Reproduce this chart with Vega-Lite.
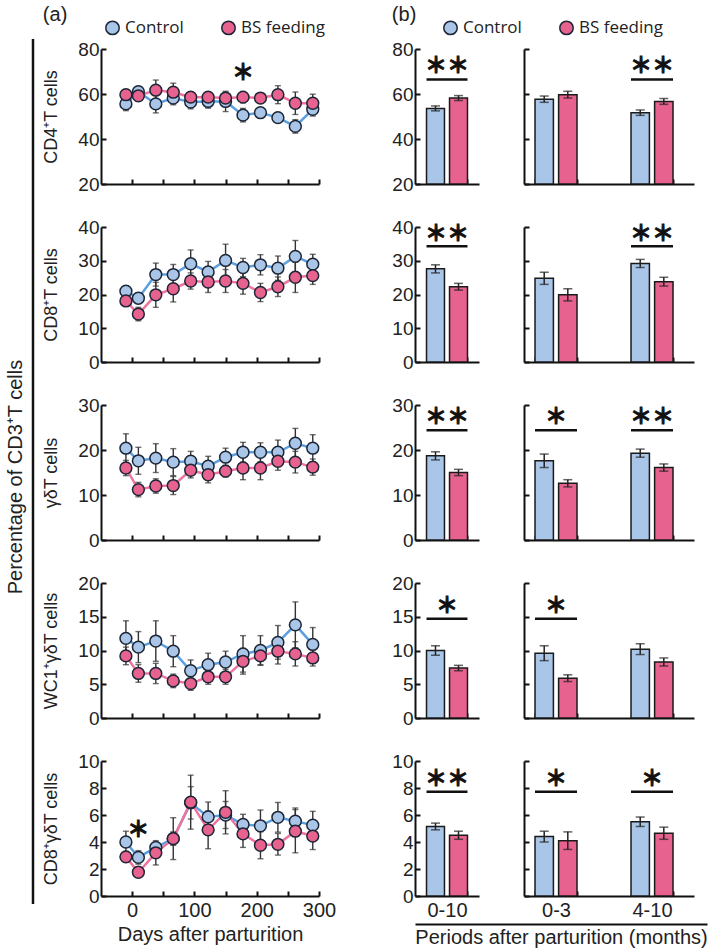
{
"$schema": "https://vega.github.io/schema/vega-lite/v6.json",
"background": "white",
"padding": {"left": 5, "top": 5, "right": 5, "bottom": 3},
"datasets": {
"lines": [
{"panel":"CD4","group":"Control","day":-10,"mean":55.6,"sem":3},
{"panel":"CD4","group":"Control","day":10,"mean":61.0,"sem":1.5},
{"panel":"CD4","group":"Control","day":38,"mean":55.6,"sem":4},
{"panel":"CD4","group":"Control","day":66,"mean":58.2,"sem":3},
{"panel":"CD4","group":"Control","day":94,"mean":56.4,"sem":3},
{"panel":"CD4","group":"Control","day":122,"mean":56.7,"sem":3},
{"panel":"CD4","group":"Control","day":150,"mean":56.7,"sem":4.5},
{"panel":"CD4","group":"Control","day":178,"mean":50.6,"sem":3},
{"panel":"CD4","group":"Control","day":206,"mean":51.7,"sem":2},
{"panel":"CD4","group":"Control","day":234,"mean":49.5,"sem":2},
{"panel":"CD4","group":"Control","day":262,"mean":45.6,"sem":3},
{"panel":"CD4","group":"Control","day":290,"mean":53.2,"sem":3},
{"panel":"CD4","group":"BS feeding","day":-10,"mean":59.7,"sem":2},
{"panel":"CD4","group":"BS feeding","day":10,"mean":59.2,"sem":1.5},
{"panel":"CD4","group":"BS feeding","day":38,"mean":61.7,"sem":4.5},
{"panel":"CD4","group":"BS feeding","day":66,"mean":60.8,"sem":4},
{"panel":"CD4","group":"BS feeding","day":94,"mean":58.6,"sem":2},
{"panel":"CD4","group":"BS feeding","day":122,"mean":58.6,"sem":2},
{"panel":"CD4","group":"BS feeding","day":150,"mean":58.2,"sem":2.5},
{"panel":"CD4","group":"BS feeding","day":178,"mean":58.6,"sem":2.5},
{"panel":"CD4","group":"BS feeding","day":206,"mean":58.2,"sem":2},
{"panel":"CD4","group":"BS feeding","day":234,"mean":59.7,"sem":4},
{"panel":"CD4","group":"BS feeding","day":262,"mean":55.9,"sem":5},
{"panel":"CD4","group":"BS feeding","day":290,"mean":55.9,"sem":4},
{"panel":"CD8","group":"Control","day":-10,"mean":21.0,"sem":1.5},
{"panel":"CD8","group":"Control","day":10,"mean":18.9,"sem":1.5},
{"panel":"CD8","group":"Control","day":38,"mean":25.9,"sem":3.4},
{"panel":"CD8","group":"Control","day":66,"mean":25.9,"sem":3},
{"panel":"CD8","group":"Control","day":94,"mean":29.1,"sem":4.1},
{"panel":"CD8","group":"Control","day":122,"mean":26.7,"sem":3.1},
{"panel":"CD8","group":"Control","day":150,"mean":30.1,"sem":4.8},
{"panel":"CD8","group":"Control","day":178,"mean":28.0,"sem":2.7},
{"panel":"CD8","group":"Control","day":206,"mean":28.8,"sem":3},
{"panel":"CD8","group":"Control","day":234,"mean":27.8,"sem":3.6},
{"panel":"CD8","group":"Control","day":262,"mean":31.3,"sem":4.7},
{"panel":"CD8","group":"Control","day":290,"mean":29.0,"sem":2.9},
{"panel":"CD8","group":"BS feeding","day":-10,"mean":18.1,"sem":1.5},
{"panel":"CD8","group":"BS feeding","day":10,"mean":14.2,"sem":2},
{"panel":"CD8","group":"BS feeding","day":38,"mean":19.9,"sem":3.7},
{"panel":"CD8","group":"BS feeding","day":66,"mean":21.7,"sem":3.9},
{"panel":"CD8","group":"BS feeding","day":94,"mean":24.0,"sem":2.4},
{"panel":"CD8","group":"BS feeding","day":122,"mean":23.7,"sem":3.1},
{"panel":"CD8","group":"BS feeding","day":150,"mean":24.0,"sem":3.4},
{"panel":"CD8","group":"BS feeding","day":178,"mean":23.3,"sem":3.2},
{"panel":"CD8","group":"BS feeding","day":206,"mean":20.6,"sem":2.7},
{"panel":"CD8","group":"BS feeding","day":234,"mean":22.3,"sem":2.9},
{"panel":"CD8","group":"BS feeding","day":262,"mean":25.1,"sem":4.5},
{"panel":"CD8","group":"BS feeding","day":290,"mean":25.6,"sem":2.6},
{"panel":"gd","group":"Control","day":-10,"mean":20.4,"sem":3.2},
{"panel":"gd","group":"Control","day":10,"mean":17.6,"sem":3.0},
{"panel":"gd","group":"Control","day":38,"mean":18.2,"sem":3.2},
{"panel":"gd","group":"Control","day":66,"mean":17.3,"sem":3.0},
{"panel":"gd","group":"Control","day":94,"mean":17.5,"sem":2.2},
{"panel":"gd","group":"Control","day":122,"mean":16.4,"sem":2.2},
{"panel":"gd","group":"Control","day":150,"mean":18.4,"sem":2.0},
{"panel":"gd","group":"Control","day":178,"mean":19.5,"sem":2.2},
{"panel":"gd","group":"Control","day":206,"mean":19.5,"sem":2.1},
{"panel":"gd","group":"Control","day":234,"mean":19.5,"sem":2.7},
{"panel":"gd","group":"Control","day":262,"mean":21.5,"sem":3.3},
{"panel":"gd","group":"Control","day":290,"mean":20.4,"sem":3.0},
{"panel":"gd","group":"BS feeding","day":-10,"mean":16.0,"sem":1.7},
{"panel":"gd","group":"BS feeding","day":10,"mean":11.2,"sem":1.6},
{"panel":"gd","group":"BS feeding","day":38,"mean":12.0,"sem":1.6},
{"panel":"gd","group":"BS feeding","day":66,"mean":12.1,"sem":2.0},
{"panel":"gd","group":"BS feeding","day":94,"mean":15.5,"sem":1.7},
{"panel":"gd","group":"BS feeding","day":122,"mean":14.5,"sem":1.8},
{"panel":"gd","group":"BS feeding","day":150,"mean":15.3,"sem":1.3},
{"panel":"gd","group":"BS feeding","day":178,"mean":16.0,"sem":2.6},
{"panel":"gd","group":"BS feeding","day":206,"mean":16.0,"sem":2.6},
{"panel":"gd","group":"BS feeding","day":234,"mean":17.5,"sem":2.0},
{"panel":"gd","group":"BS feeding","day":262,"mean":17.3,"sem":2.4},
{"panel":"gd","group":"BS feeding","day":290,"mean":16.2,"sem":1.8},
{"panel":"WC1","group":"Control","day":-10,"mean":11.8,"sem":2.6},
{"panel":"WC1","group":"Control","day":10,"mean":10.5,"sem":2.3},
{"panel":"WC1","group":"Control","day":38,"mean":11.4,"sem":3.0},
{"panel":"WC1","group":"Control","day":66,"mean":9.9,"sem":2.3},
{"panel":"WC1","group":"Control","day":94,"mean":7.0,"sem":1.6},
{"panel":"WC1","group":"Control","day":122,"mean":7.9,"sem":1.7},
{"panel":"WC1","group":"Control","day":150,"mean":8.3,"sem":1.6},
{"panel":"WC1","group":"Control","day":178,"mean":9.5,"sem":2.7},
{"panel":"WC1","group":"Control","day":206,"mean":10.0,"sem":2.2},
{"panel":"WC1","group":"Control","day":234,"mean":11.2,"sem":2.5},
{"panel":"WC1","group":"Control","day":262,"mean":13.8,"sem":3.4},
{"panel":"WC1","group":"Control","day":290,"mean":10.9,"sem":2.5},
{"panel":"WC1","group":"BS feeding","day":-10,"mean":9.2,"sem":1.3},
{"panel":"WC1","group":"BS feeding","day":10,"mean":6.6,"sem":1.3},
{"panel":"WC1","group":"BS feeding","day":38,"mean":6.6,"sem":1.5},
{"panel":"WC1","group":"BS feeding","day":66,"mean":5.5,"sem":1.0},
{"panel":"WC1","group":"BS feeding","day":94,"mean":5.1,"sem":1.0},
{"panel":"WC1","group":"BS feeding","day":122,"mean":6.1,"sem":1.1},
{"panel":"WC1","group":"BS feeding","day":150,"mean":6.1,"sem":1.1},
{"panel":"WC1","group":"BS feeding","day":178,"mean":8.4,"sem":1.9},
{"panel":"WC1","group":"BS feeding","day":206,"mean":9.2,"sem":1.3},
{"panel":"WC1","group":"BS feeding","day":234,"mean":9.9,"sem":1.9},
{"panel":"WC1","group":"BS feeding","day":262,"mean":9.5,"sem":1.8},
{"panel":"WC1","group":"BS feeding","day":290,"mean":8.9,"sem":1.2},
{"panel":"CD8gd","group":"Control","day":-10,"mean":4.0,"sem":0.8},
{"panel":"CD8gd","group":"Control","day":10,"mean":2.86,"sem":0.5},
{"panel":"CD8gd","group":"Control","day":38,"mean":3.6,"sem":0.3},
{"panel":"CD8gd","group":"Control","day":66,"mean":4.25,"sem":0.5},
{"panel":"CD8gd","group":"Control","day":94,"mean":6.9,"sem":1.2},
{"panel":"CD8gd","group":"Control","day":122,"mean":5.86,"sem":1.1},
{"panel":"CD8gd","group":"Control","day":150,"mean":6.0,"sem":1.0},
{"panel":"CD8gd","group":"Control","day":178,"mean":5.3,"sem":0.75},
{"panel":"CD8gd","group":"Control","day":206,"mean":5.2,"sem":1.17},
{"panel":"CD8gd","group":"Control","day":234,"mean":5.83,"sem":1.1},
{"panel":"CD8gd","group":"Control","day":262,"mean":5.54,"sem":0.98},
{"panel":"CD8gd","group":"Control","day":290,"mean":5.25,"sem":1.02},
{"panel":"CD8gd","group":"BS feeding","day":-10,"mean":2.9,"sem":0.4},
{"panel":"CD8gd","group":"BS feeding","day":10,"mean":1.76,"sem":0.3},
{"panel":"CD8gd","group":"BS feeding","day":38,"mean":3.2,"sem":0.9},
{"panel":"CD8gd","group":"BS feeding","day":66,"mean":4.25,"sem":1.55},
{"panel":"CD8gd","group":"BS feeding","day":94,"mean":6.95,"sem":2.0},
{"panel":"CD8gd","group":"BS feeding","day":122,"mean":4.9,"sem":1.4},
{"panel":"CD8gd","group":"BS feeding","day":150,"mean":6.2,"sem":1.6},
{"panel":"CD8gd","group":"BS feeding","day":178,"mean":4.6,"sem":1.0},
{"panel":"CD8gd","group":"BS feeding","day":206,"mean":3.76,"sem":1.0},
{"panel":"CD8gd","group":"BS feeding","day":234,"mean":3.83,"sem":0.8},
{"panel":"CD8gd","group":"BS feeding","day":262,"mean":4.8,"sem":1.6},
{"panel":"CD8gd","group":"BS feeding","day":290,"mean":4.44,"sem":1.0}
],
"stars": [
{"panel":"CD4","day":178,"mean":69.5,"label":"＊"},
{"panel":"CD8gd","day":10,"mean":4.9,"label":"＊"}
],
"bars": [
{"panel":"CD4","period":"0-10","group":"Control","mean":53.6,"sem":1.1},
{"panel":"CD4","period":"0-10","group":"BS feeding","mean":58.2,"sem":1.1},
{"panel":"CD4","period":"0-3","group":"Control","mean":57.7,"sem":1.4},
{"panel":"CD4","period":"0-3","group":"BS feeding","mean":59.7,"sem":1.5},
{"panel":"CD4","period":"4-10","group":"Control","mean":51.7,"sem":1.2},
{"panel":"CD4","period":"4-10","group":"BS feeding","mean":56.7,"sem":1.3},
{"panel":"CD8","period":"0-10","group":"Control","mean":27.6,"sem":1.2},
{"panel":"CD8","period":"0-10","group":"BS feeding","mean":22.3,"sem":1.0},
{"panel":"CD8","period":"0-3","group":"Control","mean":24.8,"sem":1.8},
{"panel":"CD8","period":"0-3","group":"BS feeding","mean":19.9,"sem":1.8},
{"panel":"CD8","period":"4-10","group":"Control","mean":29.2,"sem":1.2},
{"panel":"CD8","period":"4-10","group":"BS feeding","mean":23.8,"sem":1.3},
{"panel":"gd","period":"0-10","group":"Control","mean":18.7,"sem":0.9},
{"panel":"gd","period":"0-10","group":"BS feeding","mean":15.0,"sem":0.7},
{"panel":"gd","period":"0-3","group":"Control","mean":17.6,"sem":1.5},
{"panel":"gd","period":"0-3","group":"BS feeding","mean":12.6,"sem":0.8},
{"panel":"gd","period":"4-10","group":"Control","mean":19.3,"sem":0.9},
{"panel":"gd","period":"4-10","group":"BS feeding","mean":16.1,"sem":0.8},
{"panel":"WC1","period":"0-10","group":"Control","mean":10.0,"sem":0.7},
{"panel":"WC1","period":"0-10","group":"BS feeding","mean":7.4,"sem":0.4},
{"panel":"WC1","period":"0-3","group":"Control","mean":9.6,"sem":1.1},
{"panel":"WC1","period":"0-3","group":"BS feeding","mean":5.9,"sem":0.5},
{"panel":"WC1","period":"4-10","group":"Control","mean":10.2,"sem":0.8},
{"panel":"WC1","period":"4-10","group":"BS feeding","mean":8.3,"sem":0.6},
{"panel":"CD8gd","period":"0-10","group":"Control","mean":5.15,"sem":0.25},
{"panel":"CD8gd","period":"0-10","group":"BS feeding","mean":4.5,"sem":0.3},
{"panel":"CD8gd","period":"0-3","group":"Control","mean":4.4,"sem":0.4},
{"panel":"CD8gd","period":"0-3","group":"BS feeding","mean":4.1,"sem":0.65},
{"panel":"CD8gd","period":"4-10","group":"Control","mean":5.5,"sem":0.35},
{"panel":"CD8gd","period":"4-10","group":"BS feeding","mean":4.65,"sem":0.45}
],
"sig": [
{"kind":"line","panel":"CD4","period":"0-10","mean":66.4,"label":""},
{"kind":"text","panel":"CD4","period":"0-10","mean":72.3,"label":"＊＊"},
{"kind":"line","panel":"CD4","period":"4-10","mean":66.4,"label":""},
{"kind":"text","panel":"CD4","period":"4-10","mean":72.3,"label":"＊＊"},
{"kind":"line","panel":"CD8","period":"0-10","mean":34.3,"label":""},
{"kind":"text","panel":"CD8","period":"0-10","mean":38.0,"label":"＊＊"},
{"kind":"line","panel":"CD8","period":"4-10","mean":34.3,"label":""},
{"kind":"text","panel":"CD8","period":"4-10","mean":38.0,"label":"＊＊"},
{"kind":"line","panel":"gd","period":"0-10","mean":24.4,"label":""},
{"kind":"text","panel":"gd","period":"0-10","mean":27.3,"label":"＊＊"},
{"kind":"line","panel":"gd","period":"0-3","mean":24.4,"label":""},
{"kind":"text","panel":"gd","period":"0-3","mean":27.3,"label":"＊"},
{"kind":"line","panel":"gd","period":"4-10","mean":24.4,"label":""},
{"kind":"text","panel":"gd","period":"4-10","mean":27.3,"label":"＊＊"},
{"kind":"line","panel":"WC1","period":"0-10","mean":14.7,"label":""},
{"kind":"text","panel":"WC1","period":"0-10","mean":16.6,"label":"＊"},
{"kind":"line","panel":"WC1","period":"0-3","mean":14.7,"label":""},
{"kind":"text","panel":"WC1","period":"0-3","mean":16.6,"label":"＊"},
{"kind":"line","panel":"CD8gd","period":"0-10","mean":7.73,"label":""},
{"kind":"text","panel":"CD8gd","period":"0-10","mean":8.66,"label":"＊＊"},
{"kind":"line","panel":"CD8gd","period":"0-3","mean":7.73,"label":""},
{"kind":"text","panel":"CD8gd","period":"0-3","mean":8.66,"label":"＊"},
{"kind":"line","panel":"CD8gd","period":"4-10","mean":7.73,"label":""},
{"kind":"text","panel":"CD8gd","period":"4-10","mean":8.66,"label":"＊"}
]
},
"spacing": 7,
"hconcat": [
{
"width": 1, "height": 855,
"data": {"values": [{"x": 0, "y": 0, "y2": 1.0117}]},
"mark": {"type": "rule", "strokeWidth": 2.5, "color": "#111"},
"encoding": {
"x": {"field": "x", "type": "quantitative", "scale": {"domain": [0, 1]}, "axis": null},
"y": {"field": "y", "type": "quantitative", "scale": {"domain": [0, 1]}, "axis": {"title": "Percentage of CD3⁺T cells", "labels": false, "ticks": false, "domain": false, "titleFontSize": 20, "titlePadding": 8}},
"y2": {"field": "y2"}
}
},
{
"spacing": 55,
"resolve": {"scale": {"fill": "independent", "xOffset": "independent"}},
"hconcat": [
{
"title": {"text": "(a)", "anchor": "start", "offset": -6, "fontSize": 20, "fontWeight": "normal", "color": "#222"},
"bounds": "flush",
"spacing": 43,
"vconcat": [
{
"width": 218, "height": 135,
"data": {"name": "lines"},
"transform": [{"filter": "datum.panel === 'CD4'"}],
"encoding": {
"x": {"field": "day", "type": "quantitative", "scale": {"domain": [-50, 300], "nice": false}, "axis": {"values": [0,50,100,150,200,250,300], "labels": false, "title": null}},
"y": {"field": "mean", "type": "quantitative", "scale": {"domain": [20, 80], "nice": false, "zero": false}, "axis": {"values": [20,40,60,80], "title": "CD4⁺T cells", "titlePadding": 17}}
},
"layer": [
{"mark": {"type": "line", "strokeWidth": 2.5}, "encoding": {"stroke": {"field": "group", "type": "nominal", "scale": {"domain": ["Control","BS feeding"], "range": ["#5a9fe2","#ee74a0"]}, "legend": null}}},
{"mark": {"type": "errorbar", "ticks": true, "size": 6, "thickness": 1.4, "color": "#333"}, "encoding": {"yError": {"field": "sem"}, "detail": {"field": "group", "type": "nominal"}}},
{"mark": {"type": "circle", "size": 140, "stroke": "#1d2636", "strokeWidth": 1.5, "opacity": 1}, "encoding": {"fill": {"field": "group", "type": "nominal", "scale": {"domain": ["Control","BS feeding"], "range": ["#a9c6e8","#e8628f"]}, "legend": {"orient": "none", "legendX": 3, "legendY": -30, "direction": "horizontal", "title": null, "symbolType": "circle", "symbolSize": 180, "symbolStrokeColor": "#1d2636", "symbolStrokeWidth": 1.5, "symbolOpacity": 1, "labelFontSize": 17, "labelFont": "Open Sans", "labelColor": "#222", "columnPadding": 34, "labelOffset": 4}}}},
{"data": {"name": "stars"}, "transform": [{"filter": "datum.panel === 'CD4'"}], "mark": {"type": "text", "font": "Noto Sans CJK JP", "fontSize": 22, "fontWeight": "bold", "baseline": "middle", "color": "#111", "stroke": "#111", "strokeWidth": 1}, "encoding": {"text": {"field": "label"}}}
]
},
{
"width": 218, "height": 135,
"data": {"name": "lines"},
"transform": [{"filter": "datum.panel === 'CD8'"}],
"encoding": {
"x": {"field": "day", "type": "quantitative", "scale": {"domain": [-50, 300], "nice": false}, "axis": {"values": [0,50,100,150,200,250,300], "labels": false, "title": null}},
"y": {"field": "mean", "type": "quantitative", "scale": {"domain": [0, 40], "nice": false}, "axis": {"values": [0,10,20,30,40], "title": "CD8⁺T cells", "titlePadding": 17}}
},
"layer": [
{"mark": {"type": "line", "strokeWidth": 2.5}, "encoding": {"stroke": {"field": "group", "type": "nominal", "scale": {"domain": ["Control","BS feeding"], "range": ["#5a9fe2","#ee74a0"]}, "legend": null}}},
{"mark": {"type": "errorbar", "ticks": true, "size": 6, "thickness": 1.4, "color": "#333"}, "encoding": {"yError": {"field": "sem"}, "detail": {"field": "group", "type": "nominal"}}},
{"mark": {"type": "circle", "size": 140, "stroke": "#1d2636", "strokeWidth": 1.5, "opacity": 1}, "encoding": {"fill": {"field": "group", "type": "nominal", "scale": {"domain": ["Control","BS feeding"], "range": ["#a9c6e8","#e8628f"]}, "legend": null}}}
]
},
{
"width": 218, "height": 135,
"data": {"name": "lines"},
"transform": [{"filter": "datum.panel === 'gd'"}],
"encoding": {
"x": {"field": "day", "type": "quantitative", "scale": {"domain": [-50, 300], "nice": false}, "axis": {"values": [0,50,100,150,200,250,300], "labels": false, "title": null}},
"y": {"field": "mean", "type": "quantitative", "scale": {"domain": [0, 30], "nice": false}, "axis": {"values": [0,10,20,30], "title": "γδT cells", "titlePadding": 17}}
},
"layer": [
{"mark": {"type": "line", "strokeWidth": 2.5}, "encoding": {"stroke": {"field": "group", "type": "nominal", "scale": {"domain": ["Control","BS feeding"], "range": ["#5a9fe2","#ee74a0"]}, "legend": null}}},
{"mark": {"type": "errorbar", "ticks": true, "size": 6, "thickness": 1.4, "color": "#333"}, "encoding": {"yError": {"field": "sem"}, "detail": {"field": "group", "type": "nominal"}}},
{"mark": {"type": "circle", "size": 140, "stroke": "#1d2636", "strokeWidth": 1.5, "opacity": 1}, "encoding": {"fill": {"field": "group", "type": "nominal", "scale": {"domain": ["Control","BS feeding"], "range": ["#a9c6e8","#e8628f"]}, "legend": null}}}
]
},
{
"width": 218, "height": 135,
"data": {"name": "lines"},
"transform": [{"filter": "datum.panel === 'WC1'"}],
"encoding": {
"x": {"field": "day", "type": "quantitative", "scale": {"domain": [-50, 300], "nice": false}, "axis": {"values": [0,50,100,150,200,250,300], "labels": false, "title": null}},
"y": {"field": "mean", "type": "quantitative", "scale": {"domain": [0, 20], "nice": false}, "axis": {"values": [0,5,10,15,20], "title": "WC1⁺γδT cells", "titlePadding": 17}}
},
"layer": [
{"mark": {"type": "line", "strokeWidth": 2.5}, "encoding": {"stroke": {"field": "group", "type": "nominal", "scale": {"domain": ["Control","BS feeding"], "range": ["#5a9fe2","#ee74a0"]}, "legend": null}}},
{"mark": {"type": "errorbar", "ticks": true, "size": 6, "thickness": 1.4, "color": "#333"}, "encoding": {"yError": {"field": "sem"}, "detail": {"field": "group", "type": "nominal"}}},
{"mark": {"type": "circle", "size": 140, "stroke": "#1d2636", "strokeWidth": 1.5, "opacity": 1}, "encoding": {"fill": {"field": "group", "type": "nominal", "scale": {"domain": ["Control","BS feeding"], "range": ["#a9c6e8","#e8628f"]}, "legend": null}}}
]
},
{
"width": 218, "height": 135,
"data": {"name": "lines"},
"transform": [{"filter": "datum.panel === 'CD8gd'"}],
"encoding": {
"x": {"field": "day", "type": "quantitative", "scale": {"domain": [-50, 300], "nice": false}, "axis": {"values": [0,50,100,150,200,250,300], "labelExpr": "datum.value % 100 === 0 ? datum.label : ''", "labelFlush": false, "labelFontSize": 20, "labelPadding": 9, "title": "Days after parturition", "titleFontSize": 20, "titlePadding": 4}},
"y": {"field": "mean", "type": "quantitative", "scale": {"domain": [0, 10], "nice": false}, "axis": {"values": [0,2,4,6,8,10], "title": "CD8⁺γδT cells", "titlePadding": 17}}
},
"layer": [
{"mark": {"type": "line", "strokeWidth": 2.5}, "encoding": {"stroke": {"field": "group", "type": "nominal", "scale": {"domain": ["Control","BS feeding"], "range": ["#5a9fe2","#ee74a0"]}, "legend": null}}},
{"mark": {"type": "errorbar", "ticks": true, "size": 6, "thickness": 1.4, "color": "#333"}, "encoding": {"yError": {"field": "sem"}, "detail": {"field": "group", "type": "nominal"}}},
{"mark": {"type": "circle", "size": 140, "stroke": "#1d2636", "strokeWidth": 1.5, "opacity": 1}, "encoding": {"fill": {"field": "group", "type": "nominal", "scale": {"domain": ["Control","BS feeding"], "range": ["#a9c6e8","#e8628f"]}, "legend": null}}},
{"data": {"name": "stars"}, "transform": [{"filter": "datum.panel === 'CD8gd'"}], "mark": {"type": "text", "font": "Noto Sans CJK JP", "fontSize": 22, "fontWeight": "bold", "baseline": "middle", "color": "#111", "stroke": "#111", "strokeWidth": 1}, "encoding": {"text": {"field": "label"}}}
]
}
]
},
{
"title": {"text": "(b)", "anchor": "start", "offset": -6, "fontSize": 20, "fontWeight": "normal", "color": "#222"},
"spacing": 0,
"resolve": {"scale": {"fill": "independent", "xOffset": "independent"}},
"vconcat": [
{
"bounds": "flush",
"columns": 2,
"spacing": {"row": 43, "column": 45},
"resolve": {"scale": {"xOffset": "independent"}},
"concat": [
{
"width": 64, "height": 135,
"data": {"name": "bars"},
"transform": [{"filter": "datum.panel === 'CD4' && datum.period === '0-10'"}],
"encoding": {
"x": {"field": "period", "type": "nominal", "scale": {"domain": ["0-10"], "paddingInner": 0.36, "paddingOuter": 0.18}, "axis": {"labels": false, "title": null, "tickBand": "extent"}},
"y": {"field": "mean", "type": "quantitative", "stack": null, "scale": {"domain": [20, 80], "nice": false, "zero": false}, "axis": {"values": [20,40,60,80], "title": null}}
},
"layer": [
{"mark": {"type": "bar", "stroke": "#1a1a1a", "strokeWidth": 1.5, "clip": true}, "encoding": {"xOffset": {"field": "group", "type": "nominal", "scale": {"domain": ["Control","BS feeding"], "paddingInner": 0.22, "paddingOuter": 0}}, "fill": {"field": "group", "type": "nominal", "scale": {"domain": ["Control","BS feeding"], "range": ["#a9c6e8","#e8628f"]}, "legend": {"orient": "none", "legendX": 27, "legendY": -30, "direction": "horizontal", "title": null, "symbolType": "circle", "symbolSize": 180, "symbolStrokeColor": "#1d2636", "symbolStrokeWidth": 1.5, "symbolOpacity": 1, "labelFontSize": 17, "labelFont": "Open Sans", "labelColor": "#222", "columnPadding": 34, "labelOffset": 4}}}},
{"mark": {"type": "errorbar", "ticks": true, "size": 9, "thickness": 1.5, "color": "#222"}, "encoding": {"xOffset": {"field": "group", "type": "nominal", "scale": {"domain": ["Control","BS feeding"], "paddingInner": 0.22, "paddingOuter": 0}}, "yError": {"field": "sem"}}},
{"data": {"name": "sig"}, "transform": [{"filter": "datum.kind === 'line' && datum.panel === 'CD4' && datum.period === '0-10'"}], "mark": {"type": "rule", "strokeWidth": 2.5, "color": "#111"}, "encoding": {"x": {"field": "period", "type": "nominal", "bandPosition": 0}, "x2": {"field": "period", "bandPosition": 1}}},
{"data": {"name": "sig"}, "transform": [{"filter": "datum.kind === 'text' && datum.panel === 'CD4' && datum.period === '0-10'"}], "mark": {"type": "text", "font": "Noto Sans CJK JP", "fontSize": 22, "fontWeight": "bold", "baseline": "middle", "color": "#111", "stroke": "#111", "strokeWidth": 1}, "encoding": {"text": {"field": "label"}}}
]
},
{
"width": 170, "height": 135,
"data": {"name": "bars"},
"transform": [{"filter": "datum.panel === 'CD4' && datum.period !== '0-10'"}],
"encoding": {
"x": {"field": "period", "type": "nominal", "scale": {"domain": ["0-3","4-10"], "paddingInner": 0.5625, "paddingOuter": 0.1666, "align": 0.344}, "axis": {"labels": false, "title": null, "tickBand": "extent"}},
"y": {"field": "mean", "type": "quantitative", "stack": null, "scale": {"domain": [20, 80], "nice": false, "zero": false}, "axis": {"values": [20,40,60,80], "labels": false, "title": null}}
},
"layer": [
{"mark": {"type": "bar", "stroke": "#1a1a1a", "strokeWidth": 1.5, "clip": true}, "encoding": {"xOffset": {"field": "group", "type": "nominal", "scale": {"domain": ["Control","BS feeding"], "paddingInner": 0.22, "paddingOuter": 0}}, "fill": {"field": "group", "type": "nominal", "scale": {"domain": ["Control","BS feeding"], "range": ["#a9c6e8","#e8628f"]}, "legend": null}}},
{"mark": {"type": "errorbar", "ticks": true, "size": 9, "thickness": 1.5, "color": "#222"}, "encoding": {"xOffset": {"field": "group", "type": "nominal", "scale": {"domain": ["Control","BS feeding"], "paddingInner": 0.22, "paddingOuter": 0}}, "yError": {"field": "sem"}}},
{"data": {"name": "sig"}, "transform": [{"filter": "datum.kind === 'line' && datum.panel === 'CD4' && datum.period !== '0-10'"}], "mark": {"type": "rule", "strokeWidth": 2.5, "color": "#111"}, "encoding": {"x": {"field": "period", "type": "nominal", "bandPosition": 0}, "x2": {"field": "period", "bandPosition": 1}}},
{"data": {"name": "sig"}, "transform": [{"filter": "datum.kind === 'text' && datum.panel === 'CD4' && datum.period !== '0-10'"}], "mark": {"type": "text", "font": "Noto Sans CJK JP", "fontSize": 22, "fontWeight": "bold", "baseline": "middle", "color": "#111", "stroke": "#111", "strokeWidth": 1}, "encoding": {"text": {"field": "label"}}}
]
},
{
"width": 64, "height": 135,
"data": {"name": "bars"},
"transform": [{"filter": "datum.panel === 'CD8' && datum.period === '0-10'"}],
"encoding": {
"x": {"field": "period", "type": "nominal", "scale": {"domain": ["0-10"], "paddingInner": 0.36, "paddingOuter": 0.18}, "axis": {"labels": false, "title": null, "tickBand": "extent"}},
"y": {"field": "mean", "type": "quantitative", "stack": null, "scale": {"domain": [0, 40], "nice": false}, "axis": {"values": [0,10,20,30,40], "title": null}}
},
"layer": [
{"mark": {"type": "bar", "stroke": "#1a1a1a", "strokeWidth": 1.5, "clip": true}, "encoding": {"xOffset": {"field": "group", "type": "nominal", "scale": {"domain": ["Control","BS feeding"], "paddingInner": 0.22, "paddingOuter": 0}}, "fill": {"field": "group", "type": "nominal", "scale": {"domain": ["Control","BS feeding"], "range": ["#a9c6e8","#e8628f"]}, "legend": null}}},
{"mark": {"type": "errorbar", "ticks": true, "size": 9, "thickness": 1.5, "color": "#222"}, "encoding": {"xOffset": {"field": "group", "type": "nominal", "scale": {"domain": ["Control","BS feeding"], "paddingInner": 0.22, "paddingOuter": 0}}, "yError": {"field": "sem"}}},
{"data": {"name": "sig"}, "transform": [{"filter": "datum.kind === 'line' && datum.panel === 'CD8' && datum.period === '0-10'"}], "mark": {"type": "rule", "strokeWidth": 2.5, "color": "#111"}, "encoding": {"x": {"field": "period", "type": "nominal", "bandPosition": 0}, "x2": {"field": "period", "bandPosition": 1}}},
{"data": {"name": "sig"}, "transform": [{"filter": "datum.kind === 'text' && datum.panel === 'CD8' && datum.period === '0-10'"}], "mark": {"type": "text", "font": "Noto Sans CJK JP", "fontSize": 22, "fontWeight": "bold", "baseline": "middle", "color": "#111", "stroke": "#111", "strokeWidth": 1}, "encoding": {"text": {"field": "label"}}}
]
},
{
"width": 170, "height": 135,
"data": {"name": "bars"},
"transform": [{"filter": "datum.panel === 'CD8' && datum.period !== '0-10'"}],
"encoding": {
"x": {"field": "period", "type": "nominal", "scale": {"domain": ["0-3","4-10"], "paddingInner": 0.5625, "paddingOuter": 0.1666, "align": 0.344}, "axis": {"labels": false, "title": null, "tickBand": "extent"}},
"y": {"field": "mean", "type": "quantitative", "stack": null, "scale": {"domain": [0, 40], "nice": false}, "axis": {"values": [0,10,20,30,40], "labels": false, "title": null}}
},
"layer": [
{"mark": {"type": "bar", "stroke": "#1a1a1a", "strokeWidth": 1.5, "clip": true}, "encoding": {"xOffset": {"field": "group", "type": "nominal", "scale": {"domain": ["Control","BS feeding"], "paddingInner": 0.22, "paddingOuter": 0}}, "fill": {"field": "group", "type": "nominal", "scale": {"domain": ["Control","BS feeding"], "range": ["#a9c6e8","#e8628f"]}, "legend": null}}},
{"mark": {"type": "errorbar", "ticks": true, "size": 9, "thickness": 1.5, "color": "#222"}, "encoding": {"xOffset": {"field": "group", "type": "nominal", "scale": {"domain": ["Control","BS feeding"], "paddingInner": 0.22, "paddingOuter": 0}}, "yError": {"field": "sem"}}},
{"data": {"name": "sig"}, "transform": [{"filter": "datum.kind === 'line' && datum.panel === 'CD8' && datum.period !== '0-10'"}], "mark": {"type": "rule", "strokeWidth": 2.5, "color": "#111"}, "encoding": {"x": {"field": "period", "type": "nominal", "bandPosition": 0}, "x2": {"field": "period", "bandPosition": 1}}},
{"data": {"name": "sig"}, "transform": [{"filter": "datum.kind === 'text' && datum.panel === 'CD8' && datum.period !== '0-10'"}], "mark": {"type": "text", "font": "Noto Sans CJK JP", "fontSize": 22, "fontWeight": "bold", "baseline": "middle", "color": "#111", "stroke": "#111", "strokeWidth": 1}, "encoding": {"text": {"field": "label"}}}
]
},
{
"width": 64, "height": 135,
"data": {"name": "bars"},
"transform": [{"filter": "datum.panel === 'gd' && datum.period === '0-10'"}],
"encoding": {
"x": {"field": "period", "type": "nominal", "scale": {"domain": ["0-10"], "paddingInner": 0.36, "paddingOuter": 0.18}, "axis": {"labels": false, "title": null, "tickBand": "extent"}},
"y": {"field": "mean", "type": "quantitative", "stack": null, "scale": {"domain": [0, 30], "nice": false}, "axis": {"values": [0,10,20,30], "title": null}}
},
"layer": [
{"mark": {"type": "bar", "stroke": "#1a1a1a", "strokeWidth": 1.5, "clip": true}, "encoding": {"xOffset": {"field": "group", "type": "nominal", "scale": {"domain": ["Control","BS feeding"], "paddingInner": 0.22, "paddingOuter": 0}}, "fill": {"field": "group", "type": "nominal", "scale": {"domain": ["Control","BS feeding"], "range": ["#a9c6e8","#e8628f"]}, "legend": null}}},
{"mark": {"type": "errorbar", "ticks": true, "size": 9, "thickness": 1.5, "color": "#222"}, "encoding": {"xOffset": {"field": "group", "type": "nominal", "scale": {"domain": ["Control","BS feeding"], "paddingInner": 0.22, "paddingOuter": 0}}, "yError": {"field": "sem"}}},
{"data": {"name": "sig"}, "transform": [{"filter": "datum.kind === 'line' && datum.panel === 'gd' && datum.period === '0-10'"}], "mark": {"type": "rule", "strokeWidth": 2.5, "color": "#111"}, "encoding": {"x": {"field": "period", "type": "nominal", "bandPosition": 0}, "x2": {"field": "period", "bandPosition": 1}}},
{"data": {"name": "sig"}, "transform": [{"filter": "datum.kind === 'text' && datum.panel === 'gd' && datum.period === '0-10'"}], "mark": {"type": "text", "font": "Noto Sans CJK JP", "fontSize": 22, "fontWeight": "bold", "baseline": "middle", "color": "#111", "stroke": "#111", "strokeWidth": 1}, "encoding": {"text": {"field": "label"}}}
]
},
{
"width": 170, "height": 135,
"data": {"name": "bars"},
"transform": [{"filter": "datum.panel === 'gd' && datum.period !== '0-10'"}],
"encoding": {
"x": {"field": "period", "type": "nominal", "scale": {"domain": ["0-3","4-10"], "paddingInner": 0.5625, "paddingOuter": 0.1666, "align": 0.344}, "axis": {"labels": false, "title": null, "tickBand": "extent"}},
"y": {"field": "mean", "type": "quantitative", "stack": null, "scale": {"domain": [0, 30], "nice": false}, "axis": {"values": [0,10,20,30], "labels": false, "title": null}}
},
"layer": [
{"mark": {"type": "bar", "stroke": "#1a1a1a", "strokeWidth": 1.5, "clip": true}, "encoding": {"xOffset": {"field": "group", "type": "nominal", "scale": {"domain": ["Control","BS feeding"], "paddingInner": 0.22, "paddingOuter": 0}}, "fill": {"field": "group", "type": "nominal", "scale": {"domain": ["Control","BS feeding"], "range": ["#a9c6e8","#e8628f"]}, "legend": null}}},
{"mark": {"type": "errorbar", "ticks": true, "size": 9, "thickness": 1.5, "color": "#222"}, "encoding": {"xOffset": {"field": "group", "type": "nominal", "scale": {"domain": ["Control","BS feeding"], "paddingInner": 0.22, "paddingOuter": 0}}, "yError": {"field": "sem"}}},
{"data": {"name": "sig"}, "transform": [{"filter": "datum.kind === 'line' && datum.panel === 'gd' && datum.period !== '0-10'"}], "mark": {"type": "rule", "strokeWidth": 2.5, "color": "#111"}, "encoding": {"x": {"field": "period", "type": "nominal", "bandPosition": 0}, "x2": {"field": "period", "bandPosition": 1}}},
{"data": {"name": "sig"}, "transform": [{"filter": "datum.kind === 'text' && datum.panel === 'gd' && datum.period !== '0-10'"}], "mark": {"type": "text", "font": "Noto Sans CJK JP", "fontSize": 22, "fontWeight": "bold", "baseline": "middle", "color": "#111", "stroke": "#111", "strokeWidth": 1}, "encoding": {"text": {"field": "label"}}}
]
},
{
"width": 64, "height": 135,
"data": {"name": "bars"},
"transform": [{"filter": "datum.panel === 'WC1' && datum.period === '0-10'"}],
"encoding": {
"x": {"field": "period", "type": "nominal", "scale": {"domain": ["0-10"], "paddingInner": 0.36, "paddingOuter": 0.18}, "axis": {"labels": false, "title": null, "tickBand": "extent"}},
"y": {"field": "mean", "type": "quantitative", "stack": null, "scale": {"domain": [0, 20], "nice": false}, "axis": {"values": [0,5,10,15,20], "title": null}}
},
"layer": [
{"mark": {"type": "bar", "stroke": "#1a1a1a", "strokeWidth": 1.5, "clip": true}, "encoding": {"xOffset": {"field": "group", "type": "nominal", "scale": {"domain": ["Control","BS feeding"], "paddingInner": 0.22, "paddingOuter": 0}}, "fill": {"field": "group", "type": "nominal", "scale": {"domain": ["Control","BS feeding"], "range": ["#a9c6e8","#e8628f"]}, "legend": null}}},
{"mark": {"type": "errorbar", "ticks": true, "size": 9, "thickness": 1.5, "color": "#222"}, "encoding": {"xOffset": {"field": "group", "type": "nominal", "scale": {"domain": ["Control","BS feeding"], "paddingInner": 0.22, "paddingOuter": 0}}, "yError": {"field": "sem"}}},
{"data": {"name": "sig"}, "transform": [{"filter": "datum.kind === 'line' && datum.panel === 'WC1' && datum.period === '0-10'"}], "mark": {"type": "rule", "strokeWidth": 2.5, "color": "#111"}, "encoding": {"x": {"field": "period", "type": "nominal", "bandPosition": 0}, "x2": {"field": "period", "bandPosition": 1}}},
{"data": {"name": "sig"}, "transform": [{"filter": "datum.kind === 'text' && datum.panel === 'WC1' && datum.period === '0-10'"}], "mark": {"type": "text", "font": "Noto Sans CJK JP", "fontSize": 22, "fontWeight": "bold", "baseline": "middle", "color": "#111", "stroke": "#111", "strokeWidth": 1}, "encoding": {"text": {"field": "label"}}}
]
},
{
"width": 170, "height": 135,
"data": {"name": "bars"},
"transform": [{"filter": "datum.panel === 'WC1' && datum.period !== '0-10'"}],
"encoding": {
"x": {"field": "period", "type": "nominal", "scale": {"domain": ["0-3","4-10"], "paddingInner": 0.5625, "paddingOuter": 0.1666, "align": 0.344}, "axis": {"labels": false, "title": null, "tickBand": "extent"}},
"y": {"field": "mean", "type": "quantitative", "stack": null, "scale": {"domain": [0, 20], "nice": false}, "axis": {"values": [0,5,10,15,20], "labels": false, "title": null}}
},
"layer": [
{"mark": {"type": "bar", "stroke": "#1a1a1a", "strokeWidth": 1.5, "clip": true}, "encoding": {"xOffset": {"field": "group", "type": "nominal", "scale": {"domain": ["Control","BS feeding"], "paddingInner": 0.22, "paddingOuter": 0}}, "fill": {"field": "group", "type": "nominal", "scale": {"domain": ["Control","BS feeding"], "range": ["#a9c6e8","#e8628f"]}, "legend": null}}},
{"mark": {"type": "errorbar", "ticks": true, "size": 9, "thickness": 1.5, "color": "#222"}, "encoding": {"xOffset": {"field": "group", "type": "nominal", "scale": {"domain": ["Control","BS feeding"], "paddingInner": 0.22, "paddingOuter": 0}}, "yError": {"field": "sem"}}},
{"data": {"name": "sig"}, "transform": [{"filter": "datum.kind === 'line' && datum.panel === 'WC1' && datum.period !== '0-10'"}], "mark": {"type": "rule", "strokeWidth": 2.5, "color": "#111"}, "encoding": {"x": {"field": "period", "type": "nominal", "bandPosition": 0}, "x2": {"field": "period", "bandPosition": 1}}},
{"data": {"name": "sig"}, "transform": [{"filter": "datum.kind === 'text' && datum.panel === 'WC1' && datum.period !== '0-10'"}], "mark": {"type": "text", "font": "Noto Sans CJK JP", "fontSize": 22, "fontWeight": "bold", "baseline": "middle", "color": "#111", "stroke": "#111", "strokeWidth": 1}, "encoding": {"text": {"field": "label"}}}
]
},
{
"width": 64, "height": 135,
"data": {"name": "bars"},
"transform": [{"filter": "datum.panel === 'CD8gd' && datum.period === '0-10'"}],
"encoding": {
"x": {"field": "period", "type": "nominal", "scale": {"domain": ["0-10"], "paddingInner": 0.36, "paddingOuter": 0.18}, "axis": {"labels": true, "labelAngle": 0, "labelFontSize": 20, "labelPadding": 9, "title": null, "tickBand": "extent"}},
"y": {"field": "mean", "type": "quantitative", "stack": null, "scale": {"domain": [0, 10], "nice": false}, "axis": {"values": [0,2,4,6,8,10], "title": null}}
},
"layer": [
{"mark": {"type": "bar", "stroke": "#1a1a1a", "strokeWidth": 1.5, "clip": true}, "encoding": {"xOffset": {"field": "group", "type": "nominal", "scale": {"domain": ["Control","BS feeding"], "paddingInner": 0.22, "paddingOuter": 0}}, "fill": {"field": "group", "type": "nominal", "scale": {"domain": ["Control","BS feeding"], "range": ["#a9c6e8","#e8628f"]}, "legend": null}}},
{"mark": {"type": "errorbar", "ticks": true, "size": 9, "thickness": 1.5, "color": "#222"}, "encoding": {"xOffset": {"field": "group", "type": "nominal", "scale": {"domain": ["Control","BS feeding"], "paddingInner": 0.22, "paddingOuter": 0}}, "yError": {"field": "sem"}}},
{"data": {"name": "sig"}, "transform": [{"filter": "datum.kind === 'line' && datum.panel === 'CD8gd' && datum.period === '0-10'"}], "mark": {"type": "rule", "strokeWidth": 2.5, "color": "#111"}, "encoding": {"x": {"field": "period", "type": "nominal", "bandPosition": 0}, "x2": {"field": "period", "bandPosition": 1}}},
{"data": {"name": "sig"}, "transform": [{"filter": "datum.kind === 'text' && datum.panel === 'CD8gd' && datum.period === '0-10'"}], "mark": {"type": "text", "font": "Noto Sans CJK JP", "fontSize": 22, "fontWeight": "bold", "baseline": "middle", "color": "#111", "stroke": "#111", "strokeWidth": 1}, "encoding": {"text": {"field": "label"}}}
]
},
{
"width": 170, "height": 135,
"data": {"name": "bars"},
"transform": [{"filter": "datum.panel === 'CD8gd' && datum.period !== '0-10'"}],
"encoding": {
"x": {"field": "period", "type": "nominal", "scale": {"domain": ["0-3","4-10"], "paddingInner": 0.5625, "paddingOuter": 0.1666, "align": 0.344}, "axis": {"labels": true, "labelAngle": 0, "labelFontSize": 20, "labelPadding": 9, "title": null, "tickBand": "extent"}},
"y": {"field": "mean", "type": "quantitative", "stack": null, "scale": {"domain": [0, 10], "nice": false}, "axis": {"values": [0,2,4,6,8,10], "labels": false, "title": null}}
},
"layer": [
{"mark": {"type": "bar", "stroke": "#1a1a1a", "strokeWidth": 1.5, "clip": true}, "encoding": {"xOffset": {"field": "group", "type": "nominal", "scale": {"domain": ["Control","BS feeding"], "paddingInner": 0.22, "paddingOuter": 0}}, "fill": {"field": "group", "type": "nominal", "scale": {"domain": ["Control","BS feeding"], "range": ["#a9c6e8","#e8628f"]}, "legend": null}}},
{"mark": {"type": "errorbar", "ticks": true, "size": 9, "thickness": 1.5, "color": "#222"}, "encoding": {"xOffset": {"field": "group", "type": "nominal", "scale": {"domain": ["Control","BS feeding"], "paddingInner": 0.22, "paddingOuter": 0}}, "yError": {"field": "sem"}}},
{"data": {"name": "sig"}, "transform": [{"filter": "datum.kind === 'line' && datum.panel === 'CD8gd' && datum.period !== '0-10'"}], "mark": {"type": "rule", "strokeWidth": 2.5, "color": "#111"}, "encoding": {"x": {"field": "period", "type": "nominal", "bandPosition": 0}, "x2": {"field": "period", "bandPosition": 1}}},
{"data": {"name": "sig"}, "transform": [{"filter": "datum.kind === 'text' && datum.panel === 'CD8gd' && datum.period !== '0-10'"}], "mark": {"type": "text", "font": "Noto Sans CJK JP", "fontSize": 22, "fontWeight": "bold", "baseline": "middle", "color": "#111", "stroke": "#111", "strokeWidth": 1}, "encoding": {"text": {"field": "label"}}}
]
}
]
},
{
"width": 292, "height": 1,
"data": {"values": [{"p": 0.5}]},
"mark": {"type": "point", "opacity": 0},
"encoding": {"x": {"field": "p", "type": "quantitative", "scale": {"domain": [0, 1]}, "axis": {"title": "Periods after parturition (months)", "labels": false, "ticks": false, "domainWidth": 2, "titleFontSize": 20, "titlePadding": 3}}}
}
]
}
]
}
],
"config": {
"view": {"stroke": null},
"font": "Liberation Sans",
"axis": {"grid": false, "domainColor": "#111", "domainWidth": 2, "tickColor": "#111", "tickWidth": 2, "tickSize": -5, "labelFont": "Liberation Sans", "labelFontSize": 19, "labelColor": "#222", "labelPadding": 7, "titleFont": "Liberation Sans", "titleFontSize": 18, "titleFontWeight": "normal", "titleColor": "#222"},
"title": {"font": "Liberation Sans"}
}
}
